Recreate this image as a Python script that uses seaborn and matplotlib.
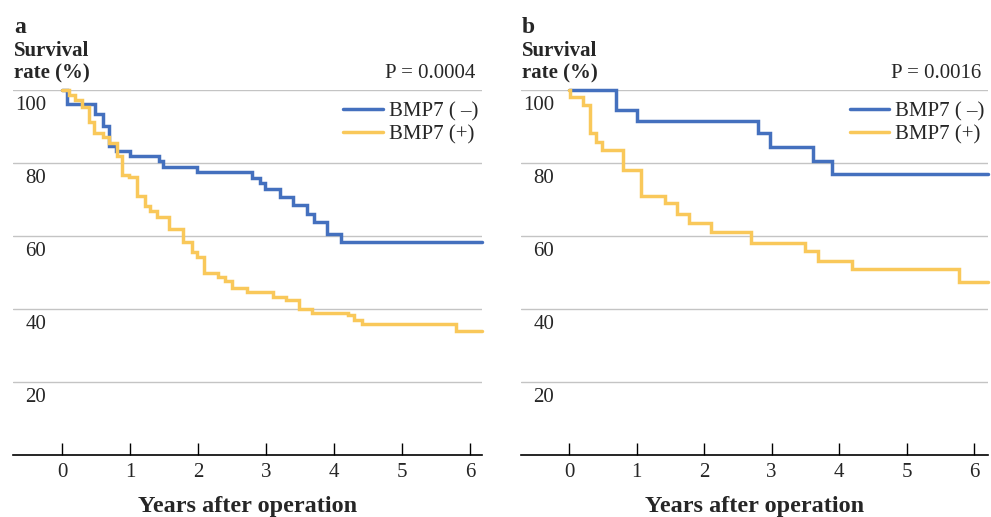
import numpy as np
import pandas as pd
import matplotlib
matplotlib.use("Agg")
import matplotlib.pyplot as plt
import matplotlib.transforms as mtransforms
import seaborn as sns

# ---------------------- data ----------------------
groups = ["BMP7 ( –)", "BMP7 (+)"]
colors = ["#4470BE", "#F9C85A"]

# panel a: event times (years) and survival (%) after each step
a_neg_t = [0, 0.07, 0.49, 0.61, 0.69, 0.80, 1.00, 1.42, 1.49, 1.99, 2.79, 2.91,
           2.99, 3.21, 3.40, 3.60, 3.70, 3.89, 4.10, 6.18]
a_neg_s = [100, 96.0, 93.2, 90.1, 84.6, 83.2, 81.7, 80.3, 78.7, 77.5, 75.8, 74.3,
           72.7, 70.6, 68.4, 65.9, 63.6, 60.3, 58.3, 58.3]
a_pos_t = [0, 0.10, 0.19, 0.29, 0.40, 0.47, 0.61, 0.69, 0.81, 0.88, 0.99, 1.10,
           1.22, 1.29, 1.40, 1.57, 1.78, 1.91, 1.99, 2.09, 2.30, 2.40, 2.50, 2.72,
           3.11, 3.29, 3.49, 3.68, 4.21, 4.29, 4.41, 5.79, 6.18]
a_pos_s = [100, 98.5, 97.1, 95.1, 91.0, 88.0, 87.1, 85.3, 81.8, 76.6, 75.9, 70.8,
           68.1, 66.7, 65.0, 61.7, 58.3, 55.4, 54.0, 49.6, 48.7, 47.6, 45.7, 44.6,
           43.2, 42.2, 39.8, 38.9, 38.2, 36.8, 35.7, 33.9, 33.9]

# panel b
b_neg_t = [0, 0.69, 1.01, 2.80, 2.98, 3.61, 3.89, 6.21]
b_neg_s = [100, 94.4, 91.5, 88.0, 84.3, 80.5, 76.8, 76.8]
b_pos_t = [0, 0.01, 0.21, 0.30, 0.40, 0.49, 0.80, 1.07, 1.42, 1.59, 1.77, 2.10,
           2.70, 3.49, 3.69, 4.19, 5.78, 6.21]
b_pos_s = [100, 98.0, 95.8, 88.0, 85.7, 83.4, 78.0, 70.9, 68.8, 65.9, 63.5, 61.0,
           58.0, 55.8, 53.0, 50.7, 47.2, 47.2]

panel_letters = ["a", "b"]
p_values = ["P = 0.0004", "P = 0.0016"]
y_ticks = [20, 40, 60, 80, 100]
x_ticks = [0, 1, 2, 3, 4, 5, 6]

# ---------------------- style ----------------------
sns.set_style("white")
plt.rcParams['font.family'] = ['Liberation Serif', 'DejaVu Serif']
plt.rcParams['mathtext.default'] = 'regular'

W, H = 991, 517
fig = plt.figure(figsize=(W / 100, H / 100), dpi=100)


def px_rect(left, right, top, bottom):
    return [left / W, 1 - bottom / H, (right - left) / W, (bottom - top) / H]


def make_df(t_neg, s_neg, t_pos, s_pos):
    return pd.DataFrame({
        "t": list(t_neg) + list(t_pos),
        "s": list(s_neg) + list(s_pos),
        "group": [groups[0]] * len(t_neg) + [groups[1]] * len(t_pos),
    })


panels = [
    dict(df=make_df(a_neg_t, a_neg_s, a_pos_t, a_pos_s), left=13, right=482,
         xlim=(-0.72, 6.176)),
    dict(df=make_df(b_neg_t, b_neg_s, b_pos_t, b_pos_s), left=521, right=988,
         xlim=(-0.716, 6.207)),
]

for i, p in enumerate(panels):
    ax = fig.add_axes(px_rect(p["left"], p["right"], 89.5, 454.5))
    sns.lineplot(data=p["df"], x="t", y="s", hue="group", hue_order=groups,
                 palette=colors, estimator=None, drawstyle="steps-post",
                 linewidth=2.5, ax=ax)
    for ln in ax.lines:
        ln.set_clip_on(False)
        ln.set_solid_joinstyle("miter")

    ax.set_xlim(*p["xlim"])
    ax.set_ylim(0, 100)
    ax.set_yticks(y_ticks)
    ax.set_xticks(x_ticks)
    ax.yaxis.grid(True, color="#c4c4c4", linewidth=1.0)
    ax.xaxis.grid(False)
    sns.despine(ax=ax, left=True)
    ax.spines["bottom"].set_color("black")
    ax.spines["bottom"].set_linewidth(1.2)
    ax.tick_params(axis="y", left=False, labelleft=False)
    ax.tick_params(axis="x", direction="in", length=9, width=1.0, color="black",
                   labelsize=15, pad=6, bottom=True)
    ax.set_xlabel("Years after operation", fontsize=17.5, fontweight="bold",
                  labelpad=10)
    ax.set_ylabel("")

    # y tick labels sit just below each gridline
    trans = mtransforms.blended_transform_factory(ax.transAxes, ax.transData)
    x_lab = 33 / (p["right"] - p["left"])
    for v in y_ticks:
        ax.text(x_lab, v - 4.4, str(v), transform=trans, ha="right", va="center",
                fontsize=15)

    handles, labels = ax.get_legend_handles_labels()
    ax.legend(handles, labels, loc="upper left",
              bbox_to_anchor=(330 / 469, 0.966), frameon=False, fontsize=15,
              handlelength=1.9, handletextpad=0.3, labelspacing=0.15,
              borderpad=0, borderaxespad=0)

    # panel letter, y label and p-value
    x0 = p["left"] + 1
    fig.text(x0 / W, 1 - 33 / H, panel_letters[i], fontsize=17,
             fontweight="bold", va="baseline", ha="left")
    fig.text(x0 / W, 1 - 56 / H, "Survival", fontsize=15, fontweight="bold",
             va="baseline", ha="left")
    fig.text(x0 / W, 1 - 78 / H, "rate (%)", fontsize=15, fontweight="bold",
             va="baseline", ha="left")
    fig.text((p["right"] - 7) / W, 1 - 78 / H, p_values[i], fontsize=15,
             va="baseline", ha="right")

fig.savefig("out.png", dpi=100)
